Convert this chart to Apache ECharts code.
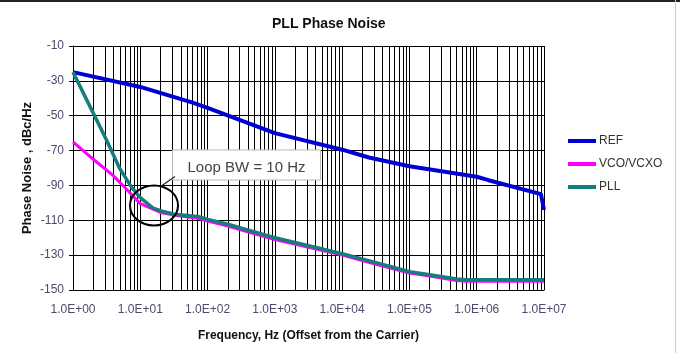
<!DOCTYPE html>
<html>
<head>
<meta charset="utf-8">
<script src="https://cdn.jsdelivr.net/npm/echarts@6/dist/echarts.min.js"></script>
<style>
  html, body { margin: 0; padding: 0; background: #fff; }
  #chart { width: 680px; height: 353px; }
</style>
</head>
<body>
<div id="chart"></div>
<script>
// offset frequency (Hz) and phase noise (dBc/Hz)
const refFreq = [1, 10, 60, 100, 1000, 1e4, 2.5e4, 1e5, 1e6, 1.5e6, 9e6, 1e7];
const refVal = [-25, -33.5, -42.5, -45.5, -60, -69.5, -74, -79, -85, -87, -95, -104];

const vcoFreq = [1, 2, 4, 6, 10, 20, 35, 76, 100, 200, 300, 1000, 1e4, 3e4, 1e5, 2e5, 5e5, 7e5, 1e7];
const vcoVal = [-65, -75, -84.5, -91.5, -100.5, -105.5, -107.3, -109, -110.5, -113.3, -115.3, -121, -130, -135, -140.3, -142, -144.6, -145, -145];

const pllFreq = [1, 2, 3.2, 4.9, 7.4, 10, 15.5, 22, 32, 76, 100, 200, 300, 1000, 1e4, 3e4, 1e5, 2e5, 5e5, 7e5, 1e7];
const pllVal = [-25, -48.5, -64.5, -80, -91, -97, -103, -105, -106.5, -108, -109.5, -112.3, -114.3, -120, -129.2, -134, -139.5, -141.3, -143.7, -144.1, -144.1];

const seriesNames = ['REF', 'VCO/VCXO', 'PLL'];
const seriesColors = ['#0000d4', '#ff00ff', '#147f78'];

const font = 'Arial, "Liberation Sans", sans-serif';
const labelColor = '#4b4b6e';

const zip = (xs, ys) => xs.map((x, i) => [x, ys[i]]);

// minor log grid lines at 2..9 of every decade
const minorLines = [];
for (let d = 0; d < 7; d++) {
  for (let k = 2; k <= 9; k++) {
    minorLines.push({ xAxis: k * Math.pow(10, d) });
  }
}

const chart = echarts.init(document.getElementById('chart'));

const option = {
  animation: false,
  backgroundColor: '#fff',
  title: {
    text: 'PLL Phase Noise',
    left: 267,
    top: 12,
    textStyle: { fontFamily: font, fontSize: 14, fontWeight: 'bold', color: '#111' }
  },
  legend: {
    orient: 'vertical',
    left: 563,
    top: 129,
    icon: 'rect',
    itemWidth: 28,
    itemHeight: 4,
    itemGap: 9,
    data: seriesNames,
    textStyle: { fontFamily: font, fontSize: 12, color: '#333', lineHeight: 14, padding: [0, 0, 0, -2] }
  },
  grid: { left: 73, right: 136, top: 46, bottom: 63 },
  xAxis: {
    type: 'log',
    logBase: 10,
    min: 1,
    max: 1e7,
    name: 'Frequency, Hz (Offset from the Carrier)',
    nameLocation: 'middle',
    nameGap: 40,
    nameMoveOverlap: false,
    nameTextStyle: { fontFamily: font, fontSize: 12, fontWeight: 'bold', color: '#111' },
    axisLine: { lineStyle: { color: '#000', width: 1 } },
    axisTick: { show: false },
    axisLabel: {
      fontFamily: font, fontSize: 12, color: labelColor, margin: 14,
      formatter: v => {
        const e = Math.round(Math.log10(v));
        return '1.0E+' + String(e).padStart(2, '0');
      }
    },
    splitLine: { show: true, lineStyle: { color: '#000', width: 1 } }
  },
  yAxis: {
    type: 'value',
    min: -150,
    max: -10,
    interval: 20,
    name: 'Phase Noise , dBc/Hz',
    nameLocation: 'middle',
    nameGap: 39,
    nameMoveOverlap: false,
    nameTextStyle: { fontFamily: font, fontSize: 13, fontWeight: 'bold', color: '#111' },
    axisLine: { show: true, lineStyle: { color: '#000', width: 1 } },
    axisTick: { show: true, length: 4, lineStyle: { color: '#000' } },
    axisLabel: { fontFamily: font, fontSize: 12, color: labelColor, margin: 9 },
    splitLine: { show: true, lineStyle: { color: '#000', width: 1 } }
  },
  series: [
    {
      name: seriesNames[0],
      type: 'line',
      data: zip(refFreq, refVal),
      symbol: 'none',
      smooth: false,
      z: 3,
      lineStyle: { color: seriesColors[0], width: 4, join: 'round' },
      itemStyle: { color: seriesColors[0] },
      markLine: {
        silent: true,
        z: 1,
        symbol: ['none', 'none'],
        label: { show: false },
        lineStyle: { color: '#000', width: 1, type: 'solid' },
        emphasis: { disabled: true },
        data: minorLines
      }
    },
    {
      name: seriesNames[1],
      type: 'line',
      data: zip(vcoFreq, vcoVal),
      symbol: 'none',
      smooth: false,
      z: 3,
      lineStyle: { color: seriesColors[1], width: 3, join: 'round' },
      itemStyle: { color: seriesColors[1] }
    },
    {
      name: seriesNames[2],
      type: 'line',
      data: zip(pllFreq, pllVal),
      symbol: 'none',
      smooth: false,
      z: 4,
      lineStyle: { color: seriesColors[2], width: 3.5, join: 'round' },
      itemStyle: { color: seriesColors[2] }
    }
  ]
};

chart.setOption(option);

// "Loop BW" annotation anchored to the data point where the loop bandwidth sits
const c = chart.convertToPixel({ gridIndex: 0 }, [16, -101.5]);
chart.setOption({
  graphic: [
    {
      type: 'rect',
      z: 10,
      shape: { x: c[0] + 18.5, y: c[1] - 55.5, width: 148, height: 30 },
      style: { fill: '#fff', stroke: '#bbb', lineWidth: 1 }
    },
    {
      type: 'text',
      z: 11,
      x: c[0] + 92.5,
      y: c[1] - 38,
      style: {
        text: 'Loop BW = 10 Hz',
        fontFamily: font,
        fontSize: 15,
        fill: '#444',
        align: 'center',
        verticalAlign: 'middle'
      }
    },
    {
      type: 'line',
      z: 11,
      shape: { x1: c[0] + 8, y1: c[1] - 20, x2: c[0] + 21, y2: c[1] - 29 },
      style: { stroke: '#222', lineWidth: 1.2 }
    },
    {
      type: 'ellipse',
      z: 11,
      shape: { cx: c[0], cy: c[1], rx: 24, ry: 20 },
      style: { fill: null, stroke: '#000', lineWidth: 2 }
    },
    {
      type: 'rect',
      z: 11,
      shape: { x: 0, y: 0, width: 680, height: 2 },
      style: { fill: '#222' }
    },
    {
      type: 'rect',
      z: 11,
      shape: { x: 675, y: 0, width: 1, height: 353 },
      style: { fill: '#ccc' }
    }
  ]
});
</script>
</body>
</html>
